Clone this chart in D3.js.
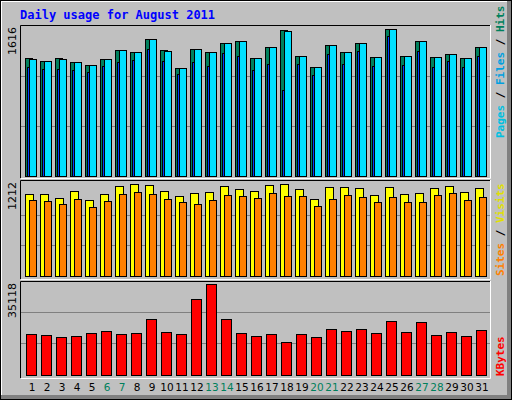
<!DOCTYPE html>
<html><head><meta charset="utf-8">
<script src="https://cdn.jsdelivr.net/npm/d3@7"></script>
<style>body{margin:0;background:#fff}svg{display:block}</style>
</head><body><div id="chart"></div>
<script>
"use strict";

const days = d3.range(1, 32);
const weekendDays = [6, 7, 13, 14, 20, 21, 27, 28];
const hits = [1271,1239,1271,1228,1196,1260,1357,1336,1476,1357,1163,1368,1336,1433,1454,1271,1390,1573,1293,1174,1411,1336,1433,1282,1583,1293,1454,1282,1314,1271,1390];
const files = [1260,1239,1260,1228,1196,1260,1357,1336,1476,1346,1163,1368,1336,1433,1454,1271,1390,1562,1293,1174,1411,1336,1433,1282,1583,1293,1454,1282,1314,1271,1390];
const pages = [1174,1152,1152,1142,1120,1185,1228,1249,1368,1239,1099,1228,1185,1325,1293,1142,1206,926,1206,1088,1314,1206,1346,1185,1508,1196,1346,1174,1239,1174,1293];
const visits = [1076,1076,1023,1116,997,1076,1181,1208,1195,1116,1050,1089,1102,1181,1142,1116,1195,1208,1142,1010,1168,1168,1155,1063,1168,1076,1089,1155,1181,1102,1155];
const sites = [997,984,944,1010,905,984,1076,1102,1076,1010,971,944,997,1063,1050,1023,1089,1050,1050,918,1010,1063,1036,971,1036,971,971,1063,1089,997,1036];
const kbytes = [15046,14677,13938,14307,15416,16155,15046,15416,20592,15786,15046,27986,33531,20592,15416,14307,15046,12089,15046,13938,16895,16155,16895,15416,19852,15786,19483,14677,15786,14307,16525];
const maxLabels = ["1616", "1212", "35118"];

const W = 512, H = 400;
const svg = d3.select("#chart").append("svg").attr("width", W).attr("height", H);

// frame with bevel
svg.append("rect").attr("x", 0).attr("y", 0).attr("width", W).attr("height", H).attr("fill", "#000");
svg.append("rect").attr("x", 1).attr("y", 1).attr("width", W - 2).attr("height", H - 2).attr("fill", "#808080");
svg.append("rect").attr("x", 1).attr("y", 1).attr("width", W - 6).attr("height", H - 6).attr("fill", "#fff");
svg.append("rect").attr("x", 2).attr("y", 2).attr("width", W - 7).attr("height", H - 7).attr("fill", "#c0c0c0");

svg.append("text").attr("x", 20).attr("y", 19)
    .style("font-family", "DejaVu Sans Mono").style("font-size", "12px").style("font-weight", "bold")
    .style("fill", "#0000ff").text("Daily usage for August 2011");

const x = d3.scaleLinear().domain([1, 31]).range([25, 475]);

const panels = [
  {top: 25, bottom: 178, y0: 176, y1: 26, max: 1616},
  {top: 180, bottom: 279, y0: 276, y1: 184, max: 1212},
  {top: 281, bottom: 378, y0: 375, y1: 280, max: 35118}
];

panels.forEach(function(p, i){
  p.y = d3.scaleLinear().domain([0, p.max]).range([p.y0, p.y1]);
  // panel border: black top/left, white bottom/right
  svg.append("path").attr("d", `M20.5,${p.bottom}V${p.top + 0.5}H490`).attr("stroke", "#000").attr("fill", "none");
  svg.append("path").attr("d", `M21,${p.bottom + 0.5}H490.5V${p.top}`).attr("stroke", "#fff").attr("fill", "none");
  [1/3, 2/3].forEach(function(f){
    svg.append("line").attr("x1", 21).attr("x2", 490)
      .attr("y1", Math.round(p.y(p.max * f)) + 0.5).attr("y2", Math.round(p.y(p.max * f)) + 0.5)
      .attr("stroke", "#808080");
  });
  svg.append("text").attr("transform", `translate(16,${p.top + 2}) rotate(-90)`)
    .attr("text-anchor", "end").style("font-family", "DejaVu Sans").style("font-size", "11px")
    .style("fill", "#000").text(maxLabels[i]);
});

const drawBars = function(values, panel, dx, w, color){
  svg.append("g").selectAll("rect").data(values).enter().append("rect")
    .attr("x", (d, i) => x(days[i]) + dx + 0.5)
    .attr("y", d => Math.round(panel.y(d)) + 0.5)
    .attr("width", w)
    .attr("height", d => panel.y0 - Math.round(panel.y(d)))
    .attr("fill", color).attr("stroke", "#000");
};

drawBars(hits, panels[0], 0, 7, "#00805c");
drawBars(pages, panels[0], 2, 2, "#0040ff");
drawBars(files, panels[0], 4, 7, "#00e0ff");
drawBars(visits, panels[1], 0, 8, "#ffff00");
drawBars(sites, panels[1], 4, 7, "#ff8000");
drawBars(kbytes, panels[2], 1, 10, "#ff0000");

// day labels
svg.append("g").selectAll("text").data(days).enter().append("text")
  .attr("x", d => x(d) + 7).attr("y", 391).attr("text-anchor", "middle")
  .style("font-family", "DejaVu Sans").style("font-size", "10.5px")
  .style("fill", d => weekendDays.includes(d) ? "#00805c" : "#000")
  .text(d => d);

// right-side legends (vertical)
const legend = function(parts, yBottom){
  const t = svg.append("text").attr("transform", `translate(504,${yBottom}) rotate(-90)`)
    .style("font-family", "DejaVu Sans Mono").style("font-size", "11px").style("font-weight", "bold");
  parts.forEach(function(p){ t.append("tspan").style("fill", p[1]).text(p[0]); });
};
legend([["Pages", "#00c0e0"], [" / ", "#000"], ["Files", "#00a0e0"], [" / ", "#000"], ["Hits", "#00805c"]], 138);
legend([["Sites", "#ff8000"], [" / ", "#000"], ["Visits", "#e0e000"]], 276);
legend([["KBytes", "#ff0000"]], 376);
</script></body></html>
